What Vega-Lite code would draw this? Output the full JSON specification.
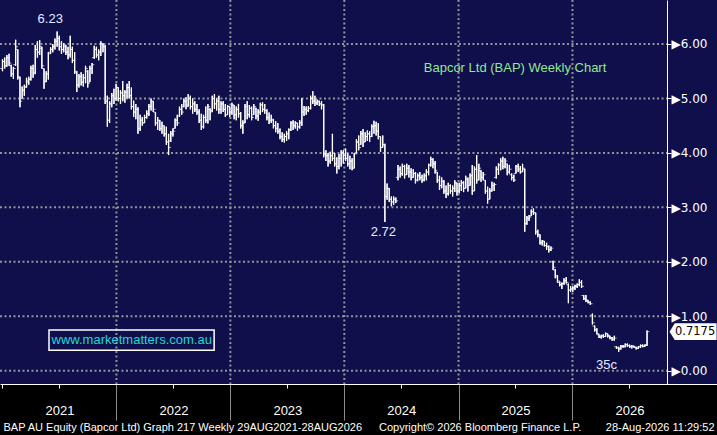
{
  "$schema": "https://vega.github.io/schema/vega-lite/v6.json",
  "width": 717,
  "height": 384,
  "autosize": "none",
  "padding": {"left": 0, "top": 0, "right": 0, "bottom": 51},
  "background": "#000000",
  "view": {"fill": "#0f0f4c", "stroke": null},
  "datasets": {
    "levels": [{"v": 0}, {"v": 1}, {"v": 2}, {"v": 3}, {"v": 4}, {"v": 5}, {"v": 6}],
    "years": [{"d": "2022-01-01"}, {"d": "2023-01-01"}, {"d": "2024-01-01"}, {"d": "2025-01-01"}, {"d": "2026-01-01"}],
    "last": [{"d": "2026-08-28", "c": 0.7175}],
    "notes": [
      {"d": "2021-06-03", "v": 6.46, "label": "6.23"},
      {"d": "2024-05-05", "v": 2.55, "label": "2.72"},
      {"d": "2026-04-20", "v": 0.105, "label": "35c"}
    ],
    "heading": [{"d": "2025-07-01", "v": 5.568, "label": "Bapcor Ltd (BAP) Weekly Chart"}],
    "site": [{"d": "2022-02-19", "v": 0.558, "d1": "2021-05-30", "d2": "2022-11-10", "v1": 0.375, "v2": 0.747, "label": "www.marketmatters.com.au"}],
    "bars": [
      {"d":"2021-01-01","o":5.55,"h":5.72,"l":5.50,"c":5.68},
      {"d":"2021-01-08","o":5.68,"h":5.75,"l":5.55,"c":5.60},
      {"d":"2021-01-15","o":5.60,"h":5.80,"l":5.58,"c":5.75},
      {"d":"2021-01-22","o":5.75,"h":5.82,"l":5.60,"c":5.65},
      {"d":"2021-01-29","o":5.60,"h":5.62,"l":5.40,"c":5.45},
      {"d":"2021-02-05","o":5.45,"h":5.58,"l":5.36,"c":5.55},
      {"d":"2021-02-12","o":5.62,"h":6.08,"l":5.60,"c":5.95},
      {"d":"2021-02-19","o":5.90,"h":5.90,"l":5.35,"c":5.40},
      {"d":"2021-02-26","o":5.38,"h":5.40,"l":4.84,"c":4.95},
      {"d":"2021-03-05","o":5.00,"h":5.22,"l":5.00,"c":5.15},
      {"d":"2021-03-12","o":5.15,"h":5.25,"l":5.05,"c":5.20},
      {"d":"2021-03-19","o":5.22,"h":5.38,"l":5.20,"c":5.32},
      {"d":"2021-03-26","o":5.30,"h":5.40,"l":5.25,"c":5.35},
      {"d":"2021-04-02","o":5.35,"h":5.60,"l":5.33,"c":5.55},
      {"d":"2021-04-09","o":5.55,"h":5.62,"l":5.38,"c":5.45},
      {"d":"2021-04-16","o":5.48,"h":5.98,"l":5.45,"c":5.90},
      {"d":"2021-04-23","o":5.90,"h":6.05,"l":5.75,"c":5.85},
      {"d":"2021-04-30","o":5.85,"h":6.07,"l":5.80,"c":5.95},
      {"d":"2021-05-07","o":5.92,"h":5.95,"l":5.55,"c":5.60},
      {"d":"2021-05-14","o":5.55,"h":5.55,"l":5.18,"c":5.30},
      {"d":"2021-05-21","o":5.32,"h":5.50,"l":5.30,"c":5.45},
      {"d":"2021-05-28","o":5.45,"h":5.85,"l":5.35,"c":5.82},
      {"d":"2021-06-04","o":5.85,"h":5.94,"l":5.82,"c":5.90},
      {"d":"2021-06-11","o":5.90,"h":6.00,"l":5.85,"c":5.95},
      {"d":"2021-06-18","o":5.95,"h":6.10,"l":5.90,"c":6.05},
      {"d":"2021-06-25","o":6.05,"h":6.23,"l":5.95,"c":6.10},
      {"d":"2021-07-02","o":6.10,"h":6.15,"l":5.88,"c":5.95},
      {"d":"2021-07-09","o":5.95,"h":6.05,"l":5.82,"c":5.90},
      {"d":"2021-07-16","o":5.90,"h":6.02,"l":5.85,"c":5.98},
      {"d":"2021-07-23","o":5.95,"h":5.98,"l":5.80,"c":5.85},
      {"d":"2021-07-30","o":5.85,"h":5.95,"l":5.72,"c":5.80},
      {"d":"2021-08-06","o":5.80,"h":6.15,"l":5.75,"c":5.90},
      {"d":"2021-08-13","o":5.90,"h":5.95,"l":5.65,"c":5.70},
      {"d":"2021-08-20","o":5.70,"h":5.85,"l":5.45,"c":5.50},
      {"d":"2021-08-27","o":5.48,"h":5.50,"l":5.12,"c":5.25},
      {"d":"2021-09-03","o":5.25,"h":5.45,"l":5.20,"c":5.40},
      {"d":"2021-09-10","o":5.40,"h":5.48,"l":5.24,"c":5.30},
      {"d":"2021-09-17","o":5.30,"h":5.45,"l":5.22,"c":5.38},
      {"d":"2021-09-24","o":5.38,"h":5.60,"l":5.28,"c":5.55},
      {"d":"2021-10-01","o":5.50,"h":5.52,"l":5.20,"c":5.28},
      {"d":"2021-10-08","o":5.30,"h":5.60,"l":5.30,"c":5.55},
      {"d":"2021-10-15","o":5.55,"h":5.65,"l":5.45,"c":5.62},
      {"d":"2021-10-22","o":5.75,"h":5.97,"l":5.73,"c":5.90},
      {"d":"2021-10-29","o":5.90,"h":5.95,"l":5.75,"c":5.80},
      {"d":"2021-11-05","o":5.80,"h":5.90,"l":5.70,"c":5.85},
      {"d":"2021-11-12","o":5.85,"h":6.05,"l":5.78,"c":6.00},
      {"d":"2021-11-19","o":6.00,"h":6.02,"l":5.85,"c":5.95},
      {"d":"2021-11-26","o":5.95,"h":5.98,"l":4.90,"c":4.95},
      {"d":"2021-12-03","o":4.95,"h":5.05,"l":4.48,"c":4.60},
      {"d":"2021-12-10","o":4.60,"h":4.95,"l":4.55,"c":4.90},
      {"d":"2021-12-17","o":4.90,"h":5.10,"l":4.84,"c":5.05},
      {"d":"2021-12-24","o":5.05,"h":5.18,"l":4.90,"c":5.00},
      {"d":"2021-12-31","o":5.00,"h":5.27,"l":4.96,"c":5.20},
      {"d":"2022-01-07","o":5.20,"h":5.20,"l":4.95,"c":5.00},
      {"d":"2022-01-14","o":5.00,"h":5.15,"l":4.90,"c":5.10},
      {"d":"2022-01-21","o":5.10,"h":5.32,"l":4.95,"c":5.05},
      {"d":"2022-01-28","o":5.05,"h":5.15,"l":4.92,"c":5.12},
      {"d":"2022-02-04","o":5.12,"h":5.27,"l":5.00,"c":5.20},
      {"d":"2022-02-11","o":5.20,"h":5.32,"l":5.00,"c":5.05},
      {"d":"2022-02-18","o":5.05,"h":5.20,"l":4.80,"c":4.85},
      {"d":"2022-02-25","o":4.85,"h":4.96,"l":4.66,"c":4.75},
      {"d":"2022-03-04","o":4.75,"h":4.90,"l":4.62,"c":4.80},
      {"d":"2022-03-11","o":4.80,"h":4.84,"l":4.35,"c":4.45},
      {"d":"2022-03-18","o":4.45,"h":4.70,"l":4.40,"c":4.60},
      {"d":"2022-03-25","o":4.60,"h":4.66,"l":4.50,"c":4.55},
      {"d":"2022-04-01","o":4.55,"h":4.70,"l":4.55,"c":4.65},
      {"d":"2022-04-08","o":4.65,"h":4.78,"l":4.63,"c":4.72},
      {"d":"2022-04-15","o":4.72,"h":4.90,"l":4.68,"c":4.85},
      {"d":"2022-04-22","o":4.85,"h":5.00,"l":4.78,"c":4.95},
      {"d":"2022-04-29","o":4.95,"h":4.95,"l":4.75,"c":4.80},
      {"d":"2022-05-06","o":4.75,"h":4.75,"l":4.50,"c":4.55},
      {"d":"2022-05-13","o":4.55,"h":4.66,"l":4.42,"c":4.60},
      {"d":"2022-05-20","o":4.60,"h":4.60,"l":4.40,"c":4.45},
      {"d":"2022-05-27","o":4.45,"h":4.57,"l":4.35,"c":4.50},
      {"d":"2022-06-03","o":4.50,"h":4.50,"l":4.30,"c":4.35},
      {"d":"2022-06-10","o":4.35,"h":4.48,"l":4.15,"c":4.20},
      {"d":"2022-06-17","o":4.20,"h":4.35,"l":3.96,"c":4.10},
      {"d":"2022-06-24","o":4.22,"h":4.40,"l":4.20,"c":4.35},
      {"d":"2022-07-01","o":4.35,"h":4.45,"l":4.30,"c":4.40},
      {"d":"2022-07-08","o":4.45,"h":4.63,"l":4.45,"c":4.60},
      {"d":"2022-07-15","o":4.60,"h":4.70,"l":4.50,"c":4.55},
      {"d":"2022-07-22","o":4.68,"h":4.85,"l":4.66,"c":4.80},
      {"d":"2022-07-29","o":4.80,"h":4.90,"l":4.70,"c":4.75},
      {"d":"2022-08-05","o":4.85,"h":5.00,"l":4.84,"c":4.95},
      {"d":"2022-08-12","o":4.95,"h":5.02,"l":4.80,"c":4.85},
      {"d":"2022-08-19","o":4.88,"h":5.08,"l":4.85,"c":5.00},
      {"d":"2022-08-26","o":5.00,"h":5.05,"l":4.80,"c":4.85},
      {"d":"2022-09-02","o":4.85,"h":5.00,"l":4.72,"c":4.90},
      {"d":"2022-09-09","o":4.90,"h":4.95,"l":4.75,"c":4.80},
      {"d":"2022-09-16","o":4.80,"h":4.90,"l":4.70,"c":4.75},
      {"d":"2022-09-23","o":4.75,"h":4.80,"l":4.55,"c":4.60},
      {"d":"2022-09-30","o":4.60,"h":4.72,"l":4.42,"c":4.48},
      {"d":"2022-10-07","o":4.48,"h":4.70,"l":4.45,"c":4.65},
      {"d":"2022-10-14","o":4.65,"h":4.85,"l":4.55,"c":4.60},
      {"d":"2022-10-21","o":4.60,"h":4.90,"l":4.54,"c":4.85},
      {"d":"2022-10-28","o":4.80,"h":4.82,"l":4.60,"c":4.75},
      {"d":"2022-11-04","o":4.78,"h":5.05,"l":4.75,"c":5.00},
      {"d":"2022-11-11","o":5.00,"h":5.08,"l":4.81,"c":4.90},
      {"d":"2022-11-18","o":4.90,"h":5.00,"l":4.78,"c":4.95},
      {"d":"2022-11-25","o":4.95,"h":5.05,"l":4.72,"c":4.80},
      {"d":"2022-12-02","o":4.80,"h":4.95,"l":4.72,"c":4.90},
      {"d":"2022-12-09","o":4.90,"h":4.95,"l":4.75,"c":4.80},
      {"d":"2022-12-16","o":4.80,"h":4.90,"l":4.66,"c":4.70},
      {"d":"2022-12-23","o":4.70,"h":4.88,"l":4.70,"c":4.85},
      {"d":"2022-12-30","o":4.85,"h":4.85,"l":4.66,"c":4.75},
      {"d":"2023-01-06","o":4.75,"h":4.92,"l":4.70,"c":4.88},
      {"d":"2023-01-13","o":4.88,"h":4.88,"l":4.62,"c":4.70},
      {"d":"2023-01-20","o":4.70,"h":4.85,"l":4.60,"c":4.80},
      {"d":"2023-01-27","o":4.80,"h":4.90,"l":4.65,"c":4.72},
      {"d":"2023-02-03","o":4.72,"h":4.75,"l":4.45,"c":4.50},
      {"d":"2023-02-10","o":4.50,"h":4.60,"l":4.35,"c":4.55},
      {"d":"2023-02-17","o":4.55,"h":4.90,"l":4.55,"c":4.85},
      {"d":"2023-02-24","o":4.85,"h":4.95,"l":4.62,"c":4.70},
      {"d":"2023-03-03","o":4.70,"h":4.88,"l":4.65,"c":4.82},
      {"d":"2023-03-10","o":4.82,"h":4.85,"l":4.60,"c":4.65},
      {"d":"2023-03-17","o":4.70,"h":4.90,"l":4.70,"c":4.85},
      {"d":"2023-03-24","o":4.82,"h":4.83,"l":4.62,"c":4.68},
      {"d":"2023-03-31","o":4.68,"h":4.80,"l":4.59,"c":4.75},
      {"d":"2023-04-07","o":4.75,"h":4.92,"l":4.70,"c":4.88},
      {"d":"2023-04-14","o":4.88,"h":4.93,"l":4.75,"c":4.80},
      {"d":"2023-04-21","o":4.80,"h":4.90,"l":4.72,"c":4.78},
      {"d":"2023-04-28","o":4.78,"h":4.80,"l":4.60,"c":4.65},
      {"d":"2023-05-05","o":4.65,"h":4.74,"l":4.53,"c":4.60},
      {"d":"2023-05-12","o":4.60,"h":4.70,"l":4.55,"c":4.62},
      {"d":"2023-05-19","o":4.60,"h":4.62,"l":4.45,"c":4.50},
      {"d":"2023-05-26","o":4.50,"h":4.58,"l":4.38,"c":4.45},
      {"d":"2023-06-02","o":4.45,"h":4.55,"l":4.35,"c":4.40},
      {"d":"2023-06-09","o":4.40,"h":4.45,"l":4.25,"c":4.30},
      {"d":"2023-06-16","o":4.30,"h":4.38,"l":4.20,"c":4.25},
      {"d":"2023-06-23","o":4.25,"h":4.35,"l":4.19,"c":4.30},
      {"d":"2023-06-30","o":4.30,"h":4.40,"l":4.22,"c":4.35},
      {"d":"2023-07-07","o":4.35,"h":4.45,"l":4.25,"c":4.42},
      {"d":"2023-07-14","o":4.42,"h":4.58,"l":4.40,"c":4.55},
      {"d":"2023-07-21","o":4.55,"h":4.60,"l":4.42,"c":4.50},
      {"d":"2023-07-28","o":4.50,"h":4.58,"l":4.45,"c":4.55},
      {"d":"2023-08-04","o":4.55,"h":4.55,"l":4.41,"c":4.48},
      {"d":"2023-08-11","o":4.48,"h":4.60,"l":4.45,"c":4.55},
      {"d":"2023-08-18","o":4.55,"h":5.01,"l":4.50,"c":4.75},
      {"d":"2023-08-25","o":4.75,"h":4.86,"l":4.68,"c":4.80},
      {"d":"2023-09-01","o":4.80,"h":4.85,"l":4.70,"c":4.78},
      {"d":"2023-09-08","o":4.78,"h":4.86,"l":4.75,"c":4.82},
      {"d":"2023-09-15","o":4.82,"h":5.05,"l":4.80,"c":5.00},
      {"d":"2023-09-22","o":5.00,"h":5.13,"l":4.90,"c":4.95},
      {"d":"2023-09-29","o":4.95,"h":5.05,"l":4.86,"c":4.92},
      {"d":"2023-10-06","o":4.92,"h":4.98,"l":4.88,"c":4.95},
      {"d":"2023-10-13","o":4.95,"h":4.96,"l":4.86,"c":4.90},
      {"d":"2023-10-20","o":4.90,"h":4.95,"l":4.80,"c":4.88},
      {"d":"2023-10-27","o":4.88,"h":4.90,"l":3.92,"c":3.98},
      {"d":"2023-11-03","o":3.98,"h":4.05,"l":3.85,"c":3.95},
      {"d":"2023-11-10","o":3.95,"h":4.00,"l":3.75,"c":3.85},
      {"d":"2023-11-17","o":3.85,"h":4.02,"l":3.80,"c":3.95},
      {"d":"2023-11-24","o":3.95,"h":4.35,"l":3.85,"c":3.90},
      {"d":"2023-12-01","o":3.90,"h":4.00,"l":3.75,"c":3.80},
      {"d":"2023-12-08","o":3.80,"h":3.92,"l":3.62,"c":3.75},
      {"d":"2023-12-15","o":3.75,"h":3.98,"l":3.70,"c":3.90},
      {"d":"2023-12-22","o":3.90,"h":4.05,"l":3.75,"c":4.00},
      {"d":"2023-12-29","o":4.00,"h":4.05,"l":3.80,"c":3.95},
      {"d":"2024-01-05","o":3.95,"h":4.08,"l":3.85,"c":3.90},
      {"d":"2024-01-12","o":3.90,"h":4.00,"l":3.75,"c":3.80},
      {"d":"2024-01-19","o":3.80,"h":3.95,"l":3.70,"c":3.85},
      {"d":"2024-01-26","o":3.85,"h":3.90,"l":3.68,"c":3.72},
      {"d":"2024-02-02","o":3.72,"h":4.00,"l":3.72,"c":3.98},
      {"d":"2024-02-09","o":4.00,"h":4.25,"l":3.99,"c":4.20},
      {"d":"2024-02-16","o":4.20,"h":4.32,"l":4.05,"c":4.10},
      {"d":"2024-02-23","o":4.15,"h":4.40,"l":4.15,"c":4.35},
      {"d":"2024-03-01","o":4.35,"h":4.44,"l":4.11,"c":4.20},
      {"d":"2024-03-08","o":4.20,"h":4.38,"l":4.20,"c":4.30},
      {"d":"2024-03-15","o":4.30,"h":4.41,"l":4.22,"c":4.35},
      {"d":"2024-03-22","o":4.35,"h":4.40,"l":4.20,"c":4.30},
      {"d":"2024-03-29","o":4.30,"h":4.52,"l":4.29,"c":4.48},
      {"d":"2024-04-05","o":4.48,"h":4.59,"l":4.35,"c":4.50},
      {"d":"2024-04-12","o":4.50,"h":4.57,"l":4.32,"c":4.40},
      {"d":"2024-04-19","o":4.40,"h":4.55,"l":4.25,"c":4.30},
      {"d":"2024-04-26","o":4.30,"h":4.30,"l":4.02,"c":4.10},
      {"d":"2024-05-03","o":4.10,"h":4.32,"l":4.10,"c":4.15},
      {"d":"2024-05-10","o":4.15,"h":4.17,"l":2.73,"c":3.20},
      {"d":"2024-05-17","o":3.20,"h":3.44,"l":3.14,"c":3.35},
      {"d":"2024-05-24","o":3.35,"h":3.35,"l":3.10,"c":3.15},
      {"d":"2024-05-31","o":3.15,"h":3.20,"l":3.02,"c":3.10},
      {"d":"2024-06-07","o":3.10,"h":3.20,"l":3.05,"c":3.15},
      {"d":"2024-06-14","o":3.15,"h":3.18,"l":3.08,"c":3.12},
      {"d":"2024-06-21","o":3.55,"h":3.78,"l":3.50,"c":3.70},
      {"d":"2024-06-28","o":3.70,"h":3.75,"l":3.55,"c":3.62},
      {"d":"2024-07-05","o":3.62,"h":3.80,"l":3.58,"c":3.75},
      {"d":"2024-07-12","o":3.75,"h":3.78,"l":3.53,"c":3.60},
      {"d":"2024-07-19","o":3.60,"h":3.80,"l":3.60,"c":3.72},
      {"d":"2024-07-26","o":3.72,"h":3.78,"l":3.55,"c":3.65},
      {"d":"2024-08-02","o":3.65,"h":3.72,"l":3.50,"c":3.55},
      {"d":"2024-08-09","o":3.55,"h":3.70,"l":3.55,"c":3.62},
      {"d":"2024-08-16","o":3.62,"h":3.65,"l":3.44,"c":3.50},
      {"d":"2024-08-23","o":3.50,"h":3.62,"l":3.48,"c":3.58},
      {"d":"2024-08-30","o":3.58,"h":3.65,"l":3.50,"c":3.55},
      {"d":"2024-09-06","o":3.55,"h":3.60,"l":3.45,"c":3.50},
      {"d":"2024-09-13","o":3.50,"h":3.62,"l":3.48,"c":3.58},
      {"d":"2024-09-20","o":3.58,"h":3.70,"l":3.50,"c":3.65},
      {"d":"2024-09-27","o":3.65,"h":3.80,"l":3.59,"c":3.78},
      {"d":"2024-10-04","o":3.78,"h":3.93,"l":3.75,"c":3.88},
      {"d":"2024-10-11","o":3.88,"h":3.90,"l":3.72,"c":3.80},
      {"d":"2024-10-18","o":3.80,"h":3.85,"l":3.62,"c":3.68},
      {"d":"2024-10-25","o":3.65,"h":3.65,"l":3.45,"c":3.50},
      {"d":"2024-11-01","o":3.50,"h":3.58,"l":3.32,"c":3.40},
      {"d":"2024-11-08","o":3.40,"h":3.55,"l":3.35,"c":3.48},
      {"d":"2024-11-15","o":3.48,"h":3.50,"l":3.25,"c":3.30},
      {"d":"2024-11-22","o":3.30,"h":3.40,"l":3.17,"c":3.25},
      {"d":"2024-11-29","o":3.25,"h":3.45,"l":3.22,"c":3.40},
      {"d":"2024-12-06","o":3.40,"h":3.42,"l":3.25,"c":3.30},
      {"d":"2024-12-13","o":3.30,"h":3.40,"l":3.20,"c":3.35},
      {"d":"2024-12-20","o":3.35,"h":3.50,"l":3.28,"c":3.45},
      {"d":"2024-12-27","o":3.45,"h":3.45,"l":3.22,"c":3.30},
      {"d":"2025-01-03","o":3.30,"h":3.45,"l":3.26,"c":3.40},
      {"d":"2025-01-10","o":3.40,"h":3.50,"l":3.30,"c":3.45},
      {"d":"2025-01-17","o":3.45,"h":3.48,"l":3.28,"c":3.35},
      {"d":"2025-01-24","o":3.35,"h":3.58,"l":3.35,"c":3.52},
      {"d":"2025-01-31","o":3.52,"h":3.55,"l":3.29,"c":3.40},
      {"d":"2025-02-07","o":3.40,"h":3.62,"l":3.40,"c":3.58},
      {"d":"2025-02-14","o":3.58,"h":3.78,"l":3.23,"c":3.30},
      {"d":"2025-02-21","o":3.30,"h":3.75,"l":3.30,"c":3.70},
      {"d":"2025-02-28","o":3.70,"h":3.96,"l":3.44,"c":3.50},
      {"d":"2025-03-07","o":3.50,"h":3.80,"l":3.50,"c":3.72},
      {"d":"2025-03-14","o":3.68,"h":3.68,"l":3.47,"c":3.55},
      {"d":"2025-03-21","o":3.55,"h":3.65,"l":3.50,"c":3.60},
      {"d":"2025-03-28","o":3.50,"h":3.50,"l":3.25,"c":3.30},
      {"d":"2025-04-04","o":3.30,"h":3.38,"l":3.07,"c":3.15},
      {"d":"2025-04-11","o":3.15,"h":3.35,"l":3.15,"c":3.30},
      {"d":"2025-04-18","o":3.30,"h":3.47,"l":3.29,"c":3.40},
      {"d":"2025-04-25","o":3.40,"h":3.45,"l":3.30,"c":3.42},
      {"d":"2025-05-02","o":3.55,"h":3.75,"l":3.53,"c":3.70},
      {"d":"2025-05-09","o":3.70,"h":3.81,"l":3.60,"c":3.78},
      {"d":"2025-05-16","o":3.78,"h":3.90,"l":3.68,"c":3.85},
      {"d":"2025-05-23","o":3.85,"h":3.93,"l":3.70,"c":3.75},
      {"d":"2025-05-30","o":3.75,"h":3.90,"l":3.72,"c":3.85},
      {"d":"2025-06-06","o":3.80,"h":3.80,"l":3.59,"c":3.65},
      {"d":"2025-06-13","o":3.65,"h":3.78,"l":3.62,"c":3.70},
      {"d":"2025-06-20","o":3.60,"h":3.62,"l":3.50,"c":3.55},
      {"d":"2025-06-27","o":3.55,"h":3.60,"l":3.47,"c":3.50},
      {"d":"2025-07-04","o":3.62,"h":3.78,"l":3.62,"c":3.75},
      {"d":"2025-07-11","o":3.75,"h":3.80,"l":3.65,"c":3.70},
      {"d":"2025-07-18","o":3.70,"h":3.76,"l":3.62,"c":3.65},
      {"d":"2025-07-25","o":3.65,"h":3.80,"l":3.65,"c":3.72},
      {"d":"2025-08-01","o":3.70,"h":3.71,"l":2.55,"c":2.70},
      {"d":"2025-08-08","o":2.70,"h":2.84,"l":2.68,"c":2.80},
      {"d":"2025-08-15","o":2.80,"h":2.86,"l":2.75,"c":2.82},
      {"d":"2025-08-22","o":2.84,"h":2.96,"l":2.84,"c":2.92},
      {"d":"2025-08-29","o":2.92,"h":2.98,"l":2.86,"c":2.90},
      {"d":"2025-09-05","o":2.90,"h":2.90,"l":2.50,"c":2.55},
      {"d":"2025-09-12","o":2.55,"h":2.59,"l":2.45,"c":2.50},
      {"d":"2025-09-19","o":2.50,"h":2.50,"l":2.32,"c":2.35},
      {"d":"2025-09-26","o":2.35,"h":2.40,"l":2.30,"c":2.38},
      {"d":"2025-10-03","o":2.38,"h":2.38,"l":2.28,"c":2.30},
      {"d":"2025-10-10","o":2.30,"h":2.35,"l":2.22,"c":2.28},
      {"d":"2025-10-17","o":2.28,"h":2.30,"l":2.17,"c":2.22},
      {"d":"2025-10-24","o":2.22,"h":2.28,"l":2.20,"c":2.25},
      {"d":"2025-10-31","o":2.00,"h":2.02,"l":1.85,"c":1.90},
      {"d":"2025-11-07","o":1.85,"h":1.87,"l":1.70,"c":1.75},
      {"d":"2025-11-14","o":1.72,"h":1.75,"l":1.62,"c":1.65},
      {"d":"2025-11-21","o":1.62,"h":1.64,"l":1.55,"c":1.58},
      {"d":"2025-11-28","o":1.58,"h":1.62,"l":1.50,"c":1.60},
      {"d":"2025-12-05","o":1.60,"h":1.70,"l":1.58,"c":1.65},
      {"d":"2025-12-12","o":1.65,"h":1.72,"l":1.60,"c":1.62},
      {"d":"2025-12-19","o":1.58,"h":1.60,"l":1.24,"c":1.48},
      {"d":"2025-12-26","o":1.48,"h":1.55,"l":1.45,"c":1.50},
      {"d":"2026-01-02","o":1.50,"h":1.55,"l":1.45,"c":1.52},
      {"d":"2026-01-09","o":1.52,"h":1.58,"l":1.48,"c":1.55},
      {"d":"2026-01-16","o":1.55,"h":1.60,"l":1.52,"c":1.58},
      {"d":"2026-01-23","o":1.58,"h":1.68,"l":1.55,"c":1.62},
      {"d":"2026-01-30","o":1.62,"h":1.66,"l":1.52,"c":1.55},
      {"d":"2026-02-06","o":1.38,"h":1.39,"l":1.30,"c":1.32},
      {"d":"2026-02-13","o":1.32,"h":1.39,"l":1.26,"c":1.30},
      {"d":"2026-02-20","o":1.28,"h":1.30,"l":1.24,"c":1.26},
      {"d":"2026-02-27","o":1.25,"h":1.27,"l":1.21,"c":1.23},
      {"d":"2026-03-06","o":1.02,"h":1.05,"l":0.85,"c":0.88},
      {"d":"2026-03-13","o":0.82,"h":0.83,"l":0.72,"c":0.75},
      {"d":"2026-03-20","o":0.75,"h":0.78,"l":0.67,"c":0.68},
      {"d":"2026-03-27","o":0.66,"h":0.67,"l":0.60,"c":0.62},
      {"d":"2026-04-03","o":0.62,"h":0.66,"l":0.59,"c":0.64},
      {"d":"2026-04-10","o":0.64,"h":0.67,"l":0.60,"c":0.63},
      {"d":"2026-04-17","o":0.63,"h":0.70,"l":0.62,"c":0.68},
      {"d":"2026-04-24","o":0.68,"h":0.68,"l":0.61,"c":0.64},
      {"d":"2026-05-01","o":0.64,"h":0.64,"l":0.58,"c":0.60},
      {"d":"2026-05-08","o":0.60,"h":0.62,"l":0.55,"c":0.58},
      {"d":"2026-05-15","o":0.58,"h":0.64,"l":0.55,"c":0.60},
      {"d":"2026-05-22","o":0.44,"h":0.45,"l":0.40,"c":0.42},
      {"d":"2026-05-29","o":0.42,"h":0.44,"l":0.35,"c":0.40},
      {"d":"2026-06-05","o":0.40,"h":0.47,"l":0.39,"c":0.45},
      {"d":"2026-06-12","o":0.45,"h":0.47,"l":0.42,"c":0.44},
      {"d":"2026-06-19","o":0.44,"h":0.50,"l":0.43,"c":0.48},
      {"d":"2026-06-26","o":0.48,"h":0.50,"l":0.44,"c":0.46},
      {"d":"2026-07-03","o":0.46,"h":0.48,"l":0.42,"c":0.44},
      {"d":"2026-07-10","o":0.44,"h":0.47,"l":0.41,"c":0.45},
      {"d":"2026-07-17","o":0.45,"h":0.46,"l":0.42,"c":0.43},
      {"d":"2026-07-24","o":0.43,"h":0.44,"l":0.39,"c":0.41},
      {"d":"2026-07-31","o":0.41,"h":0.45,"l":0.40,"c":0.44},
      {"d":"2026-08-07","o":0.44,"h":0.48,"l":0.42,"c":0.46},
      {"d":"2026-08-14","o":0.46,"h":0.48,"l":0.43,"c":0.45},
      {"d":"2026-08-21","o":0.45,"h":0.48,"l":0.44,"c":0.47},
      {"d":"2026-08-28","o":0.47,"h":0.74,"l":0.46,"c":0.7175}
    ]
  },
  "layer": [
    {
      "data": {"name": "bars"},
      "mark": {"type": "rule", "color": "#ffffff", "strokeWidth": 1.2},
      "encoding": {
        "x": {
          "field": "d",
          "type": "temporal",
          "scale": {"type": "utc", "domain": [{"year": 2020, "month": 12, "date": 24, "utc": true}, {"year": 2027, "month": 4, "date": 9, "utc": true}]},
          "axis": {
            "values": [
              {"year": 2021, "month": 1, "date": 1, "utc": true}, {"year": 2021, "month": 4, "date": 1, "utc": true}, {"year": 2021, "month": 7, "date": 1, "utc": true}, {"year": 2021, "month": 10, "date": 1, "utc": true},
              {"year": 2022, "month": 1, "date": 1, "utc": true}, {"year": 2022, "month": 4, "date": 1, "utc": true}, {"year": 2022, "month": 7, "date": 1, "utc": true}, {"year": 2022, "month": 10, "date": 1, "utc": true},
              {"year": 2023, "month": 1, "date": 1, "utc": true}, {"year": 2023, "month": 4, "date": 1, "utc": true}, {"year": 2023, "month": 7, "date": 1, "utc": true}, {"year": 2023, "month": 10, "date": 1, "utc": true},
              {"year": 2024, "month": 1, "date": 1, "utc": true}, {"year": 2024, "month": 4, "date": 1, "utc": true}, {"year": 2024, "month": 7, "date": 1, "utc": true}, {"year": 2024, "month": 10, "date": 1, "utc": true},
              {"year": 2025, "month": 1, "date": 1, "utc": true}, {"year": 2025, "month": 4, "date": 1, "utc": true}, {"year": 2025, "month": 7, "date": 1, "utc": true}, {"year": 2025, "month": 10, "date": 1, "utc": true},
              {"year": 2026, "month": 1, "date": 1, "utc": true}, {"year": 2026, "month": 4, "date": 1, "utc": true}, {"year": 2026, "month": 7, "date": 1, "utc": true}, {"year": 2026, "month": 10, "date": 1, "utc": true}
            ],
            "labelExpr": "utcmonth(datum.value) == 0 ? utcFormat(datum.value, '%Y') : ''",
            "labelOffset": 57,
            "labelAlign": "center",
            "labelBaseline": "middle",
            "labelPadding": {"condition": {"test": "utcyear(datum.value) == 2021", "value": 22}, "value": -10},
            "labelColor": "#ffffff",
            "labelFont": "Liberation Sans",
            "labelFontSize": 13,
            "labelOverlap": false,
            "labelFlush": false,
            "domainColor": "#ffffff",
            "domainWidth": 1,
            "tickColor": {"condition": {"test": "utcmonth(datum.value) == 0 && utcyear(datum.value) > 2021", "value": "#8c8c8c"}, "value": "#ffffff"},
            "tickSize": {"condition": {"test": "utcmonth(datum.value) == 0 && utcyear(datum.value) > 2021", "value": 36}, "value": 4},
            "tickWidth": 1,
            "grid": false,
            "title": "BAP AU Equity (Bapcor Ltd) Graph 217 Weekly 29AUG2021-28AUG2026",
            "titleFont": "Liberation Sans",
            "titleFontSize": 11,
            "titleFontWeight": "normal",
            "titleColor": "#ffffff",
            "titleAlign": "left",
            "titleAnchor": "start",
            "titleBaseline": "alphabetic",
            "titleX": 3,
            "titleY": 46
          }
        },
        "y": {
          "field": "l",
          "type": "quantitative",
          "scale": {"domain": [-0.244, 6.808], "nice": false, "zero": false},
          "axis": {
            "orient": "right",
            "offset": -50,
            "values": [0, 0.5, 1, 1.5, 2, 2.5, 3, 3.5, 4, 4.5, 5, 5.5, 6],
            "labelExpr": "datum.value % 1 == 0 ? '\u25b6' + format(datum.value, '.2f') : ''",
            "labelColor": "#ffffff",
            "labelFont": "DejaVu Sans",
            "labelFontSize": 12,
            "labelPadding": 0,
            "labelBaseline": "middle",
            "labelOverlap": false,
            "labelFlush": false,
            "domainColor": "#ffffff",
            "domainWidth": 1,
            "tickColor": "#ffffff",
            "tickSize": 4,
            "grid": false,
            "title": "Copyright\u00a9 2026 Bloomberg Finance L.P.\u00a0\u00a0\u00a0\u00a0\u00a0\u00a0\u00a0\u00a028-Aug-2026 11:29:52",
            "titleAngle": 0,
            "titleFont": "Liberation Sans",
            "titleFontSize": 11,
            "titleFontWeight": "normal",
            "titleColor": "#ffffff",
            "titleAlign": "right",
            "titleBaseline": "alphabetic",
            "titleX": 47,
            "titleY": 430
          }
        },
        "y2": {"field": "h"}
      }
    },
    {
      "data": {"name": "levels"},
      "mark": {"type": "rule", "color": "#939393", "strokeWidth": 2, "strokeDash": [2, 2.5]},
      "encoding": {
        "x": {"datum": {"year": 2020, "month": 12, "date": 24, "utc": true}, "type": "temporal"},
        "x2": {"datum": {"year": 2026, "month": 10, "date": 31, "utc": true}},
        "y": {"field": "v", "type": "quantitative"}
      }
    },
    {
      "data": {"name": "years"},
      "mark": {"type": "rule", "color": "#939393", "strokeWidth": 2, "strokeDash": [2, 2.5]},
      "encoding": {
        "x": {"field": "d", "type": "temporal"}
      }
    },
    {
      "data": {"name": "bars"},
      "mark": {"type": "rule", "color": "#ffffff", "strokeWidth": 1.2},
      "encoding": {
        "x": {"field": "d", "type": "temporal"},
        "y": {"field": "l", "type": "quantitative"},
        "y2": {"field": "h"}
      }
    },
    {
      "data": {"name": "bars"},
      "mark": {"type": "tick", "orient": "horizontal", "color": "#ffffff", "size": 2.2, "thickness": 1, "xOffset": -1.2},
      "encoding": {
        "x": {"field": "d", "type": "temporal"},
        "y": {"field": "o", "type": "quantitative"}
      }
    },
    {
      "data": {"name": "bars"},
      "mark": {"type": "tick", "orient": "horizontal", "color": "#ffffff", "size": 2.2, "thickness": 1, "xOffset": 1.2},
      "encoding": {
        "x": {"field": "d", "type": "temporal"},
        "y": {"field": "c", "type": "quantitative"}
      }
    },
    {
      "data": {"name": "last"},
      "mark": {"type": "point", "shape": "M-1,0L-0.78,-0.36L1,-0.36L1,0.36L-0.78,0.36Z", "size": 2209, "filled": true, "color": "#ffffff", "opacity": 1, "strokeWidth": 0, "xOffset": 46},
      "encoding": {
        "x": {"field": "d", "type": "temporal"},
        "y": {"field": "c", "type": "quantitative"}
      }
    },
    {
      "data": {"name": "last"},
      "mark": {"type": "text", "color": "#000000", "font": "DejaVu Sans", "fontSize": 11.5, "align": "center", "baseline": "middle", "dx": 48},
      "encoding": {
        "x": {"field": "d", "type": "temporal"},
        "y": {"field": "c", "type": "quantitative"},
        "text": {"field": "c", "type": "quantitative", "format": ".4f"}
      }
    },
    {
      "data": {"name": "notes"},
      "mark": {"type": "text", "color": "#e4ebff", "font": "Liberation Sans", "fontSize": 13, "align": "center", "baseline": "middle"},
      "encoding": {
        "x": {"field": "d", "type": "temporal"},
        "y": {"field": "v", "type": "quantitative"},
        "text": {"field": "label"}
      }
    },
    {
      "data": {"name": "heading"},
      "mark": {"type": "text", "color": "#92e892", "font": "Liberation Sans", "fontSize": 13, "align": "center", "baseline": "middle"},
      "encoding": {
        "x": {"field": "d", "type": "temporal"},
        "y": {"field": "v", "type": "quantitative"},
        "text": {"field": "label"}
      }
    },
    {
      "data": {"name": "site"},
      "mark": {"type": "rect", "fill": "#0f0f4c", "fillOpacity": 0, "stroke": "#ffffff", "strokeWidth": 1.5},
      "encoding": {
        "x": {"field": "d1", "type": "temporal"},
        "x2": {"field": "d2"},
        "y": {"field": "v1", "type": "quantitative"},
        "y2": {"field": "v2"}
      }
    },
    {
      "data": {"name": "site"},
      "mark": {"type": "text", "color": "#1ed8d8", "font": "Liberation Sans", "fontSize": 13, "align": "center", "baseline": "middle"},
      "encoding": {
        "x": {"field": "d", "type": "temporal"},
        "y": {"field": "v", "type": "quantitative"},
        "text": {"field": "label"}
      }
    }
  ]
}
